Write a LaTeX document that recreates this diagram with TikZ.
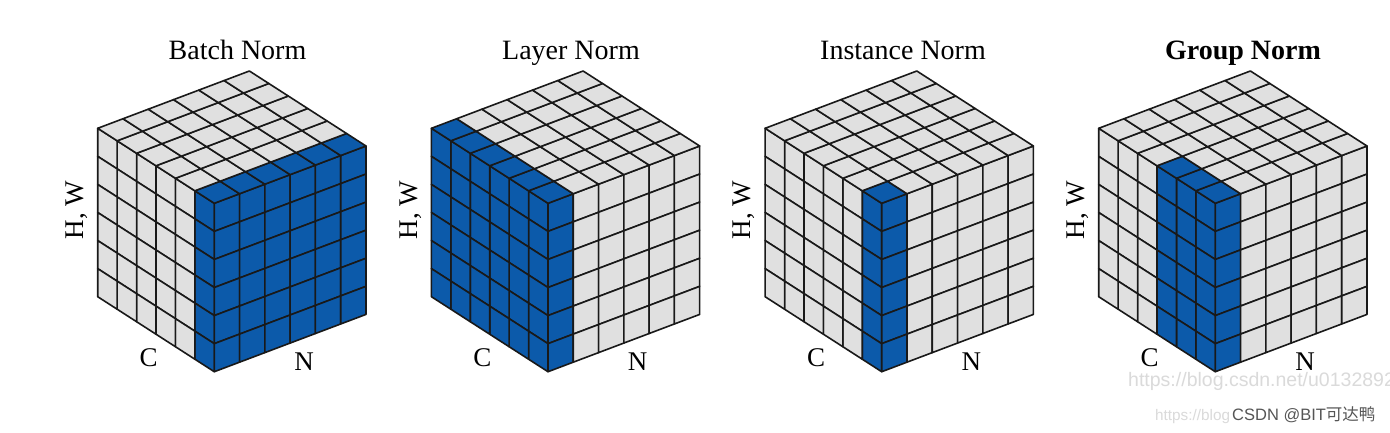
\documentclass[tikz,border=0pt]{standalone}
\usepackage{fontspec}
\setmainfont{Liberation Serif}
\newfontfamily\wmfont{Liberation Sans}
\newfontfamily\cjk{Noto Sans CJK SC}
\definecolor{nblue}{RGB}{12,90,170}
\definecolor{ngray}{RGB}{224,224,224}
\definecolor{wmlight}{RGB}{218,218,218}
\definecolor{wmdark}{RGB}{85,85,85}
\tikzset{
  cell/.style={draw=black!90, line width=1.6pt, line join=round},
  titlelbl/.style={font=\fontsize{28}{30}\selectfont, anchor=base, inner sep=0pt},
  axislbl/.style={font=\fontsize{27}{29}\selectfont, anchor=base, inner sep=0pt},
}
% #1 front x, #2 blue C count, #3 blue N count, #4 title centre x, #5 title, #6 name prefix
\newcommand\normcube[6]{%
  \begin{scope}[shift={(#1,228.7)}, x={(-19.43pt,12.5pt)}, y={(25.28pt,9.55pt)}, z={(0pt,-28.07pt)}]
    % left face (C x HW)
    \foreach \c in {0,...,5}{\foreach \h in {0,...,5}{%
      \ifnum\c<#2\relax\def\col{nblue}\else\def\col{ngray}\fi
      \filldraw[cell, fill=\col] (\c,0,\h) -- (\c+1,0,\h) -- (\c+1,0,\h+1) -- (\c,0,\h+1) -- cycle;}}
    % right face (N x HW)
    \foreach \n in {0,...,5}{\foreach \h in {0,...,5}{%
      \ifnum\n<#3\relax\def\col{nblue}\else\def\col{ngray}\fi
      \filldraw[cell, fill=\col] (0,\n,\h) -- (0,\n+1,\h) -- (0,\n+1,\h+1) -- (0,\n,\h+1) -- cycle;}}
    % top face (C x N)
    \foreach \c in {0,...,5}{\foreach \n in {0,...,5}{%
      \def\col{ngray}%
      \ifnum\c<#2\relax\ifnum\n<#3\relax\def\col{nblue}\fi\fi
      \filldraw[cell, fill=\col] (\c,\n,0) -- (\c+1,\n,0) -- (\c+1,\n+1,0) -- (\c,\n+1,0) -- cycle;}}
  \end{scope}
  \node[titlelbl] (#6title) at (#4,372) {#5};
  \node[axislbl] (#6c) at ({#1-65.6},65.3) {C};
  \node[axislbl] (#6n) at ({#1+89.7},62) {N};
  \node[axislbl, rotate=90] (#6hw) at ({#1-131},222) {H, W};
}
\begin{document}
\begin{tikzpicture}[x=1pt,y=1pt]
  \fill[white] (0,0) rectangle (1390,432);
  \useasboundingbox (0,0) rectangle (1390,432);
  \normcube{214.3}{1}{6}{237.5}{Batch Norm}{bn}
  \normcube{548.0}{6}{1}{571}{Layer Norm}{ln}
  \normcube{881.7}{1}{1}{903}{Instance Norm}{in}
  \normcube{1215.3}{3}{1}{1243}{\textbf{Group Norm}}{gn}
  \begin{scope}
    \clip (0,0) rectangle (1390,432);
    \node[anchor=base west, inner sep=0pt, text=wmlight, font=\wmfont\fontsize{19.5}{21}\selectfont] (wm1) at (1128,46) {https://blog.csdn.net/u0132892};
    \node[anchor=base west, inner sep=0pt, text=wmlight, font=\wmfont\fontsize{15.3}{17}\selectfont] (wm2) at (1155,12) {https://blog};
    \node[anchor=base west, inner sep=0pt, text=wmdark, font=\wmfont\fontsize{16.5}{18}\selectfont] (wm3) at (1232,12) {CSDN @BIT{\cjk 可达鸭}};
  \end{scope}
\end{tikzpicture}
\end{document}
